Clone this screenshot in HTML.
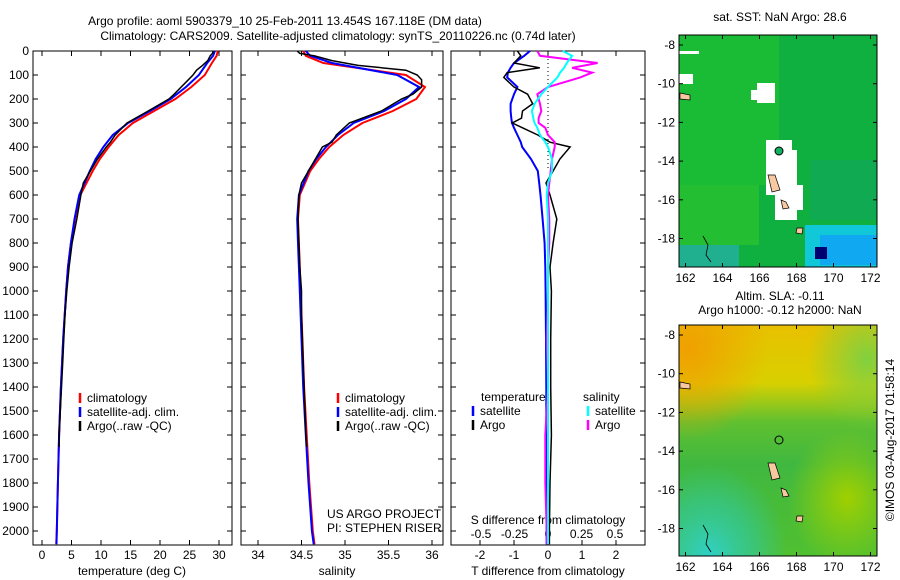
<!DOCTYPE html>
<html><head><meta charset="utf-8">
<style>
html,body{margin:0;padding:0;background:#fff;}
svg{display:block;font-family:"Liberation Sans",sans-serif;}
text{font-size:12px;fill:#000;}
</style></head>
<body>
<svg id="fig" width="900" height="580" viewBox="0 0 900 580" xmlns="http://www.w3.org/2000/svg">
<text x="285" y="25" text-anchor="middle">Argo profile: aoml 5903379_10 25-Feb-2011 13.454S 167.118E (DM data)</text>
<text x="338" y="40" text-anchor="middle">Climatology: CARS2009. Satellite-adjusted climatology: synTS_20110226.nc (0.74d later)</text>
<g id="g1"></g>
<g id="g2"></g>
<g id="g3"></g>
<g id="maps">
 <defs>
  <linearGradient id="slaV" x1="0" y1="0" x2="0" y2="1">
   <stop offset="0" stop-color="#e8c000"/><stop offset="0.25" stop-color="#d8d000"/><stop offset="0.42" stop-color="#60c030"/><stop offset="0.6" stop-color="#40b840"/><stop offset="1" stop-color="#50c030"/>
  </linearGradient>
  <radialGradient id="sla1" cx="0.05" cy="0.1" r="0.4"><stop offset="0" stop-color="#f0a000"/><stop offset="1" stop-color="#f0a000" stop-opacity="0"/></radialGradient>
  <radialGradient id="sla2" cx="0.15" cy="1" r="0.4"><stop offset="0" stop-color="#30d0c8"/><stop offset="0.6" stop-color="#30c8a0" stop-opacity="0.6"/><stop offset="1" stop-color="#30c8a0" stop-opacity="0"/></radialGradient>
  <radialGradient id="sla3" cx="0.85" cy="0.75" r="0.3"><stop offset="0" stop-color="#a0d000"/><stop offset="1" stop-color="#a0d000" stop-opacity="0"/></radialGradient>
  <radialGradient id="sla4" cx="0.95" cy="0.15" r="0.3"><stop offset="0" stop-color="#80d040"/><stop offset="1" stop-color="#80d040" stop-opacity="0"/></radialGradient>
 </defs>
 <text x="780" y="21" text-anchor="middle">sat. SST: NaN Argo: 28.6</text>
 <g>
  <rect x="679" y="35" width="198" height="232" fill="#10b040"/>
  <rect x="679" y="35" width="100" height="150" fill="#20c030" opacity="0.7"/>
  <rect x="679" y="185" width="80" height="60" fill="#30c828" opacity="0.6"/>
  <rect x="810" y="160" width="67" height="60" fill="#10a858" opacity="0.7"/>
  <rect x="679" y="245" width="60" height="22" fill="#20b090"/>
  <rect x="805" y="225" width="72" height="42" fill="#10c8d8"/>
  <rect x="820" y="235" width="57" height="30" fill="#10a8f0"/>
  <rect x="815" y="247" width="12" height="12" fill="#000070"/>
  <rect x="679" y="51" width="20" height="3" fill="#fff"/>
  <rect x="679" y="74" width="14" height="10" fill="#fff"/>
  <rect x="751" y="90" width="22" height="10" fill="#fff"/>
  <rect x="757" y="83" width="18" height="20" fill="#fff"/>
  <rect x="766" y="140" width="26" height="55" fill="#fff"/>
  <rect x="775" y="150" width="22" height="70" fill="#fff"/>
  <rect x="795" y="185" width="8" height="25" fill="#fff"/>
  <circle cx="779" cy="151" r="4" fill="#10b060" stroke="#000"/>
  <path d="M768 175 L775 175 L780 190 L772 192 Z" fill="#f8c8a0" stroke="#000" stroke-width="0.7"/>
  <path d="M781 200 L786 202 L789 208 L783 209 Z" fill="#f8c8a0" stroke="#000" stroke-width="0.7"/>
  <path d="M797 228 L803 228 L802 234 L796 233 Z" fill="#f8c8a0" stroke="#000" stroke-width="0.7"/>
  <path d="M680 93 L690 95 L690 100 L680 99 Z" fill="#f8c8a0" stroke="#000" stroke-width="0.7"/>
  <path d="M703 236 L708 245 L706 255 L711 262" fill="none" stroke="#000" stroke-width="0.8"/>
  <rect x="679" y="35" width="198" height="232" fill="none" stroke="#000"/>
 </g>
 <text x="780" y="300" text-anchor="middle">Altim. SLA: -0.11</text>
 <text x="780" y="314" text-anchor="middle">Argo h1000: -0.12 h2000: NaN</text>
 <g>
  <rect x="679" y="325" width="198" height="231" fill="url(#slaV)"/>
  <rect x="679" y="325" width="198" height="231" fill="url(#sla1)"/>
  <rect x="679" y="325" width="198" height="231" fill="url(#sla3)"/>
  <rect x="679" y="325" width="198" height="231" fill="url(#sla4)"/>
  <rect x="679" y="325" width="198" height="231" fill="url(#sla2)"/>
  <circle cx="779" cy="440" r="4" fill="none" stroke="#000"/>
  <path d="M768 463 L775 463 L780 478 L772 480 Z" fill="#f8c8a0" stroke="#000" stroke-width="0.7"/>
  <path d="M781 488 L786 490 L789 496 L783 497 Z" fill="#f8c8a0" stroke="#000" stroke-width="0.7"/>
  <path d="M797 516 L803 516 L802 522 L796 521 Z" fill="#f8c8a0" stroke="#000" stroke-width="0.7"/>
  <path d="M680 382 L690 384 L690 389 L680 388 Z" fill="#f8c8a0" stroke="#000" stroke-width="0.7"/>
  <path d="M703 525 L708 534 L706 544 L711 552" fill="none" stroke="#000" stroke-width="0.8"/>
  <rect x="679" y="325" width="198" height="231" fill="none" stroke="#000"/>
 </g>
 <g id="mapaxes"></g>
 <text transform="translate(894,440) rotate(-90)" text-anchor="middle">©IMOS 03-Aug-2017 01:58:14</text>
</g>
</svg>
<script>
// ---- data ----
const depthTicks = [0,100,200,300,400,500,600,700,800,900,1000,1100,1200,1300,1400,1500,1600,1700,1800,1900,2000];
const tempTicks = [0,5,10,15,20,25,30];
const salTicks = [34,34.5,35,35.5,36];
const salTickLabels = ["34","34.5","35","35.5","36"];
const tdiffTicks = [-2,-1,0,1,2];
const sdiffTicks = [-0.5,-0.25,0,0.25,0.5];
const sdiffTickLabels = ["-0.5","-0.25","0","0.25","0.5"];

const depthsClim = [0,20,50,100,150,200,250,300,350,400,450,500,600,700,800,900,1000,1200,1400,1600,1800,2000,2055];
const tempClim   = [29.8,29.6,28.8,27.6,25.3,22.6,19.0,15.4,13.0,11.3,9.8,8.6,6.5,5.6,4.9,4.4,4.1,3.6,3.2,2.9,2.7,2.5,2.4];
const tempSat    = [29.3,29.0,28.0,26.6,24.4,21.8,18.3,14.6,12.0,10.4,9.1,8.1,6.3,5.5,4.9,4.4,4.1,3.6,3.2,2.9,2.7,2.5,2.45];
const salClim    = [34.52,34.55,34.75,35.7,35.92,35.82,35.55,35.2,34.98,34.82,34.7,34.6,34.48,34.46,34.47,34.48,34.49,34.51,34.53,34.56,34.59,34.63,34.65];
const salSat     = [34.55,34.6,34.85,35.6,35.85,35.7,35.45,35.1,34.92,34.78,34.67,34.58,34.47,34.45,34.46,34.47,34.48,34.5,34.52,34.55,34.58,34.62,34.64];

const depthsArgo = [0,10,20,40,60,80,100,120,150,180,200,250,300,350,380,400,450,500,550,600,700,800,900,1000,1100,1200,1300,1400,1500,1600,1650];
const tempArgo   = [29.0,28.9,28.5,28.1,27.2,26.2,25.6,24.8,23.6,22.4,21.5,18.0,14.4,12.4,11.6,10.9,9.4,8.2,7.0,6.6,5.9,5.1,4.6,4.2,3.9,3.7,3.5,3.3,3.1,2.9,2.9];
const salArgo    = [34.45,34.48,34.65,34.85,35.15,35.7,35.83,35.88,35.88,35.78,35.65,35.42,35.05,34.9,34.85,34.74,34.66,34.58,34.5,34.47,34.46,34.47,34.48,34.5,34.5,34.51,34.52,34.53,34.54,34.55,34.56];

const depthsDiff = [0,20,50,70,90,110,150,180,220,250,280,300,320,350,380,400,450,500,550,600,700,800,900,1000,1200,1400,1600,1800,2000,2055];
const tdiffSat   = [-0.53,-0.7,-1.0,-1.1,-1.18,-1.2,-0.9,-1.0,-1.1,-1.1,-1.08,-1.06,-1.0,-0.9,-0.8,-0.76,-0.5,-0.3,-0.26,-0.22,-0.16,-0.1,-0.08,-0.07,-0.06,-0.05,-0.05,-0.04,-0.04,-0.04];
const tdiffArgo  = [-0.9,-0.8,-1.0,-0.24,-1.2,-1.3,-1.0,-0.6,-0.45,-0.75,-0.78,-1.05,-0.75,-0.3,0.06,0.65,0.35,0.15,-0.06,0.06,0.26,0.15,0.06,0.1,0.08,0.08,0.1,0.06,0.04,0.04];
const sdiffSat   = [0.11,0.18,0.14,0.12,0.09,0.07,0.0,-0.05,-0.1,-0.12,-0.11,-0.1,-0.08,-0.06,-0.02,0.0,0.03,0.03,0.0,-0.01,0.0,0.0,0.0,0.0,0.0,0.0,0.0,0.0,0.0,0.0];
const sdiffArgo  = [-0.08,-0.06,0.37,0.18,0.33,0.24,0.0,-0.08,-0.06,-0.05,-0.07,-0.07,-0.02,0.0,0.05,0.05,0.03,0.02,0.01,0.0,0.01,0.01,0.0,0.0,-0.01,0.0,-0.02,-0.02,-0.01,-0.01];

const lonTicks = [162,164,166,168,170,172];
const latTicks = [-8,-10,-12,-14,-16,-18];

// ---- axes ----
const NS = "http://www.w3.org/2000/svg";
const TOP = 51, BOT = 545;
function yD(d){ return TOP + d*0.24; }
function xT(t){ return 42 + t*5.9; }
function xS(s){ return 258 + (s-34)*87; }
function xTd(v){ return 548 + v*34; }
function xSd(v){ return 548 + v*134; }
function mk(tag, attrs, parent, text){
  const e = document.createElementNS(NS, tag);
  for (const k in attrs) e.setAttribute(k, attrs[k]);
  if (text !== undefined) e.textContent = text;
  parent.appendChild(e); return e;
}
function line(parent, depths, vals, xf, color, name, w){
  let d = "";
  for (let i=0;i<depths.length;i++) d += (i?"L":"M") + xf(vals[i]).toFixed(1) + " " + yD(depths[i]).toFixed(1);
  const p = mk("path", {d:d, fill:"none", stroke:color, "stroke-width":w||2}, parent);
  
  
}
function frame(g, x0, x1, name){
  const r = mk("rect", {x:x0, y:TOP, width:x1-x0, height:BOT-TOP, fill:"none", stroke:"#000"}, g);
  
  
}
function xticks(g, vals, labels, xf, y, tickName){
  vals.forEach((v,i)=>{
    const x = xf(v);
    mk("line",{x1:x,x2:x,y1:TOP,y2:TOP+5,stroke:"#000"},g);
    mk("line",{x1:x,x2:x,y1:BOT,y2:BOT-5,stroke:"#000"},g);
    const t = mk("text",{x:x,y:y,"text-anchor":"middle"},g,labels[i]);
    
    
  });
}
function legend(g, x, y, items){
  items.forEach((it,i)=>{
    const yy = y + i*14;
    mk("line",{x1:x,x2:x,y1:yy-9,y2:yy+1,stroke:it[1],"stroke-width":2.5},g);
    const t = mk("text",{x:x+7,y:yy},g,it[0]);
    
    
  });
}

// Panel 1
const g1 = document.getElementById("g1");
frame(g1, 33, 232, "temperature-plot-frame");
depthTicks.forEach(d=>{
  const y = yD(d);
  mk("line",{x1:33,x2:38,y1:y,y2:y,stroke:"#000"},g1);
  mk("line",{x1:232,x2:227,y1:y,y2:y,stroke:"#000"},g1);
  const t = mk("text",{x:29,y:y+4,"text-anchor":"end"},g1,String(d));
  
  
});
xticks(g1, tempTicks, tempTicks.map(String), xT, 559, "temperature-tick-label");
mk("text",{x:132,y:575,"text-anchor":"middle"},g1,"temperature (deg C)");
line(g1, depthsClim, tempClim, xT, "#f00", "temp-climatology-line");
line(g1, depthsClim, tempSat, xT, "#00f", "temp-satellite-line");
line(g1, depthsArgo, tempArgo, xT, "#000", "temp-argo-line", 1.5);
legend(g1, 80, 402, [["climatology","#f00"],["satellite-adj. clim.","#00f"],["Argo(..raw -QC)","#000"]]);

// Panel 2
const g2 = document.getElementById("g2");
frame(g2, 241, 443, "salinity-plot-frame");
depthTicks.forEach(d=>{
  const y = yD(d);
  mk("line",{x1:241,x2:246,y1:y,y2:y,stroke:"#000"},g2);
  mk("line",{x1:443,x2:438,y1:y,y2:y,stroke:"#000"},g2);
});
xticks(g2, salTicks, salTickLabels, xS, 559, "salinity-tick-label");
mk("text",{x:337,y:575,"text-anchor":"middle"},g2,"salinity");
line(g2, depthsClim, salClim, xS, "#f00", "sal-climatology-line");
line(g2, depthsClim, salSat, xS, "#00f", "sal-satellite-line");
line(g2, depthsArgo, salArgo, xS, "#000", "sal-argo-line", 1.5);
legend(g2, 338, 402, [["climatology","#f00"],["satellite-adj. clim.","#00f"],["Argo(..raw -QC)","#000"]]);
mk("text",{x:327,y:518},g2,"US ARGO PROJECT");
mk("text",{x:327,y:532},g2,"PI: STEPHEN RISER");

// Panel 3
const g3 = document.getElementById("g3");
frame(g3, 451, 645, "difference-plot-frame");
depthTicks.forEach(d=>{
  const y = yD(d);
  mk("line",{x1:451,x2:456,y1:y,y2:y,stroke:"#000"},g3);
  mk("line",{x1:645,x2:640,y1:y,y2:y,stroke:"#000"},g3);
});
xticks(g3, tdiffTicks, tdiffTicks.map(String), xTd, 559, "tdiff-tick-label");
sdiffTicks.forEach((v,i)=>{
  const t = mk("text",{x:xSd(v),y:538,"text-anchor":"middle"},g3,sdiffTickLabels[i]);
  
  
});
mk("text",{x:548,y:524,"text-anchor":"middle"},g3,"S difference from climatology");
mk("text",{x:548,y:575,"text-anchor":"middle"},g3,"T difference from climatology");
mk("line",{x1:548,x2:548,y1:TOP,y2:yD(500),stroke:"#000","stroke-dasharray":"1,3"},g3);
line(g3, depthsDiff, tdiffSat, xTd, "#00f", "tdiff-satellite-line");
line(g3, depthsDiff, tdiffArgo, xTd, "#000", "tdiff-argo-line", 1.5);
line(g3, depthsDiff, sdiffArgo, xSd, "#f0f", "sdiff-argo-line");
line(g3, depthsDiff, sdiffSat, xSd, "#0ff", "sdiff-satellite-line");
mk("text",{x:481,y:401},g3,"temperature");
legend(g3, 473, 415, [["satellite","#00f"],["Argo","#000"]]);
mk("text",{x:583,y:401},g3,"salinity");
legend(g3, 588, 415, [["satellite","#0ff"],["Argo","#f0f"]]);

// Map axes
const ga = document.getElementById("mapaxes");
function lonX(l){ return 685.5 + (l-162)*18.5; }
[[35,267],[325,556]].forEach((b,mi)=>{
  const top=b[0], bot=b[1], lat0 = mi? 335:45;
  lonTicks.forEach(l=>{
    const x = lonX(l);
    mk("line",{x1:x,x2:x,y1:top,y2:top+4,stroke:"#000"},ga);
    mk("line",{x1:x,x2:x,y1:bot,y2:bot-4,stroke:"#000"},ga);
    const t = mk("text",{x:x,y:bot+15,"text-anchor":"middle"},ga,String(l));
    
    
  });
  latTicks.forEach(l=>{
    const y = lat0 + (-8-l)*19.35;
    mk("line",{x1:679,x2:683,y1:y,y2:y,stroke:"#000"},ga);
    mk("line",{x1:877,x2:873,y1:y,y2:y,stroke:"#000"},ga);
    const t = mk("text",{x:675,y:y+4,"text-anchor":"end"},ga,String(l));
    
    
  });
});
</script>
</body></html>
